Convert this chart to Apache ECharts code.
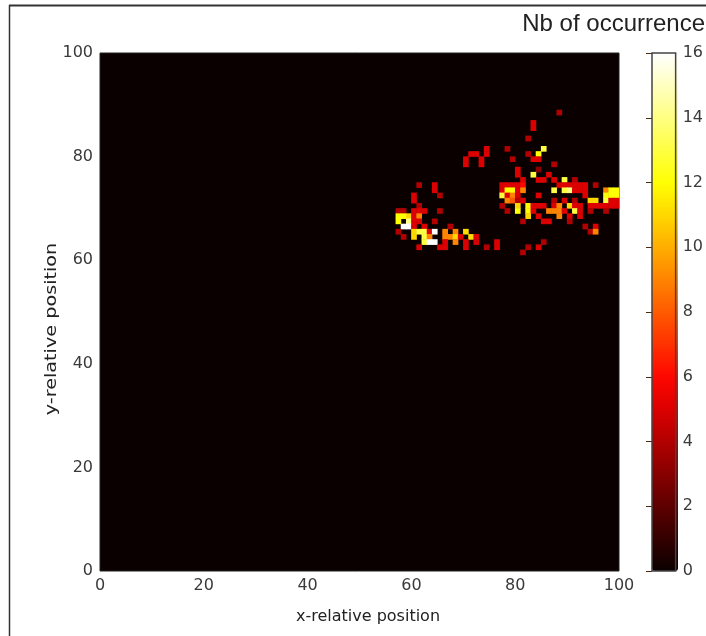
<!DOCTYPE html>
<html>
<head>
<meta charset="utf-8">
<style>
  html, body { margin: 0; padding: 0; background: #fff; }
  #chart { width: 706px; height: 636px; }
</style>
<script src="https://cdn.jsdelivr.net/npm/echarts@6/dist/echarts.min.js"></script>
</head>
<body>
<div id="chart"></div>
<script>
const xTickStep = 20
const axisMax = 100
const colorbarMax = 16
const colorbarStep = 2

// matplotlib "hot", one stop per count
const hotStops = ['#0b0000', '#340000', '#5e0000', '#880000', '#b20000', '#dc0000', '#ff0700', '#ff3100', '#ff5a00',
    '#ff8400', '#ffae00', '#ffd800', '#ffff04', '#ffff42', '#ffff82', '#ffffc0', '#ffffff']

// [x bin, y bin, count], everything else is 0
const leftCluster = [
    [74, 81, 5], [78, 81, 4], [71, 80, 5], [72, 80, 5], [74, 80, 5], [70, 79, 5], [73, 79, 5], [70, 78, 5], [73, 78, 5],
    [61, 74, 4], [64, 74, 5], [64, 73, 5], [65, 72, 4], [60, 72, 5], [60, 71, 5], [61, 70, 4], [65, 69, 4],
    [57, 69, 4], [58, 69, 4], [60, 69, 5], [61, 69, 5], [62, 69, 5],
    [57, 68, 12], [58, 68, 12], [59, 68, 11], [60, 68, 5], [61, 68, 9],
    [57, 67, 12], [59, 67, 14], [60, 67, 5], [61, 67, 5], [64, 67, 4],
    [58, 66, 16], [59, 66, 16], [60, 66, 5], [62, 66, 5], [67, 66, 4],
    [57, 65, 4], [60, 65, 11], [61, 65, 13], [62, 65, 13], [63, 65, 5], [64, 65, 16], [66, 65, 9], [68, 65, 9], [70, 65, 11],
    [58, 64, 4], [60, 64, 11], [62, 64, 13], [63, 64, 9], [66, 64, 9], [67, 64, 9], [68, 64, 11], [69, 64, 5], [71, 64, 11], [72, 64, 5],
    [62, 63, 13], [63, 63, 16], [64, 63, 16], [66, 63, 5], [68, 63, 9], [70, 63, 5], [72, 63, 5], [76, 63, 5],
    [61, 62, 5], [65, 62, 5], [66, 62, 5], [70, 62, 5], [74, 62, 4]
]
const rightCluster = [
    [88, 88, 4], [83, 86, 5], [83, 85, 5], [82, 83, 4], [85, 81, 13], [84, 80, 12], [82, 80, 4],
    [79, 79, 4], [83, 79, 5], [84, 79, 5], [87, 78, 4], [80, 77, 5], [84, 77, 3],
    [80, 76, 5], [83, 76, 13], [86, 76, 5],
    [81, 75, 5], [84, 75, 5], [85, 75, 5], [87, 75, 5], [89, 75, 13], [91, 75, 4],
    [77, 74, 5], [78, 74, 5], [79, 74, 5], [80, 74, 5], [81, 74, 6], [88, 74, 5], [89, 74, 5], [90, 74, 5], [91, 74, 5], [92, 74, 5], [93, 74, 5], [95, 74, 4],
    [77, 73, 5], [78, 73, 12], [79, 73, 12], [80, 73, 5], [81, 73, 9], [87, 73, 13], [89, 73, 13], [90, 73, 14], [91, 73, 5], [92, 73, 5], [93, 73, 5], [97, 73, 9], [98, 73, 12], [99, 73, 12],
    [77, 72, 13], [78, 72, 5], [79, 72, 9], [80, 72, 5], [84, 72, 5], [93, 72, 5], [97, 72, 12], [98, 72, 12], [99, 72, 12],
    [78, 71, 9], [79, 71, 8], [80, 71, 4], [81, 71, 5], [87, 71, 4], [89, 71, 5], [91, 71, 4], [94, 71, 11], [95, 71, 11], [97, 71, 13], [98, 71, 5], [99, 71, 5],
    [77, 70, 4], [80, 70, 11], [82, 70, 12], [83, 70, 5], [84, 70, 5], [85, 70, 5], [87, 70, 5], [88, 70, 9], [90, 70, 11], [91, 70, 5], [92, 70, 5], [94, 70, 5], [95, 70, 5], [96, 70, 5], [97, 70, 5], [98, 70, 5], [99, 70, 5],
    [78, 69, 4], [80, 69, 12], [82, 69, 12], [83, 69, 5], [86, 69, 9], [87, 69, 9], [88, 69, 9], [89, 69, 5], [91, 69, 13], [92, 69, 5], [94, 69, 4], [97, 69, 4],
    [82, 68, 11], [84, 68, 5], [88, 68, 9], [90, 68, 5], [92, 68, 5],
    [81, 67, 4], [85, 67, 5], [86, 67, 5], [90, 67, 4],
    [93, 66, 4], [95, 66, 5], [94, 65, 4], [95, 65, 9],
    [85, 63, 4], [84, 62, 5], [82, 62, 4], [76, 62, 5], [81, 61, 4]
]

const binLabels = Array.from({ length: axisMax }, (_, i) => String(i))

const tickFont = { color: '#3a3a3a', fontSize: 16, fontFamily: 'DejaVu Sans' }

const chart = echarts.init(document.getElementById('chart'), undefined, { renderer: 'canvas' })

chart.setOption({
    backgroundColor: '#fff',
    animation: false,
    grid: [
        { left: 100, top: 53, width: 519, height: 518, show: true, backgroundColor: hotStops[0], borderColor: '#222', borderWidth: 1 },
        { left: 652, top: 53, width: 26, height: 518, show: true, backgroundColor: 'transparent', borderColor: '#444', borderWidth: 1.5, z: 5 }
    ],
    xAxis: [
        { type: 'category', gridIndex: 0, data: binLabels, show: false },
        {
            type: 'value', gridIndex: 0, position: 'bottom', min: 0, max: axisMax, interval: xTickStep,
            axisLine: { show: false }, axisTick: { show: false }, splitLine: { show: false },
            axisLabel: { ...tickFont, margin: 7 }
        },
        { type: 'value', gridIndex: 1, min: 0, max: 1, show: false }
    ],
    yAxis: [
        { type: 'category', gridIndex: 0, data: binLabels, show: false },
        {
            type: 'value', gridIndex: 0, position: 'left', min: 0, max: axisMax, interval: xTickStep,
            axisLine: { show: false }, axisTick: { show: false }, splitLine: { show: false },
            axisLabel: { ...tickFont, margin: 7, padding: [0, 0, 4, 0] }
        },
        {
            type: 'value', gridIndex: 1, position: 'right', min: 0, max: colorbarMax, interval: colorbarStep,
            axisLine: { show: false }, splitLine: { show: false },
            axisTick: { show: true, inside: true, length: 6, lineStyle: { color: '#4a2a10' } },
            axisLabel: { ...tickFont, margin: 7, padding: [0, 0, 4, 0] }
        }
    ],
    visualMap: {
        type: 'continuous', seriesIndex: 0, min: 0, max: colorbarMax,
        left: 652, top: 53, itemWidth: 26, itemHeight: 518,
        text: null, calculable: false, hoverLink: false, padding: 0, showLabel: false,
        inRange: { color: hotStops }
    },
    series: [
        {
            type: 'heatmap', xAxisIndex: 0, yAxisIndex: 0,
            data: [...leftCluster, ...rightCluster],
            progressive: 0,
            emphasis: { disabled: true },
            itemStyle: { borderWidth: 0 }
        }
    ],
    graphic: [
        { type: 'line', shape: { x1: 9.5, y1: 5, x2: 9.5, y2: 636 }, style: { stroke: '#333', lineWidth: 1.5 } },
        { type: 'line', shape: { x1: 9, y1: 5.5, x2: 706, y2: 5.5 }, style: { stroke: '#333', lineWidth: 2 } },
        {
            type: 'text', x: 705, y: 24,
            style: { text: 'Nb of occurrence', fill: '#222', font: '24px "Liberation Sans"', textAlign: 'right', textVerticalAlign: 'middle' }
        },
        {
            type: 'text', x: 368, y: 617,
            style: { text: 'x-relative position', fill: '#222', font: '16px "DejaVu Sans"', textAlign: 'center', textVerticalAlign: 'middle' }
        },
        {
            // the y title is stretched along its length in the picture
            type: 'text', x: 52, y: 329, rotation: Math.PI / 2, scaleX: 1.2,
            style: { text: 'y-relative position', fill: '#222', font: '16px "DejaVu Sans"', textAlign: 'center', textVerticalAlign: 'middle' }
        }
    ]
})
</script>
</body>
</html>
